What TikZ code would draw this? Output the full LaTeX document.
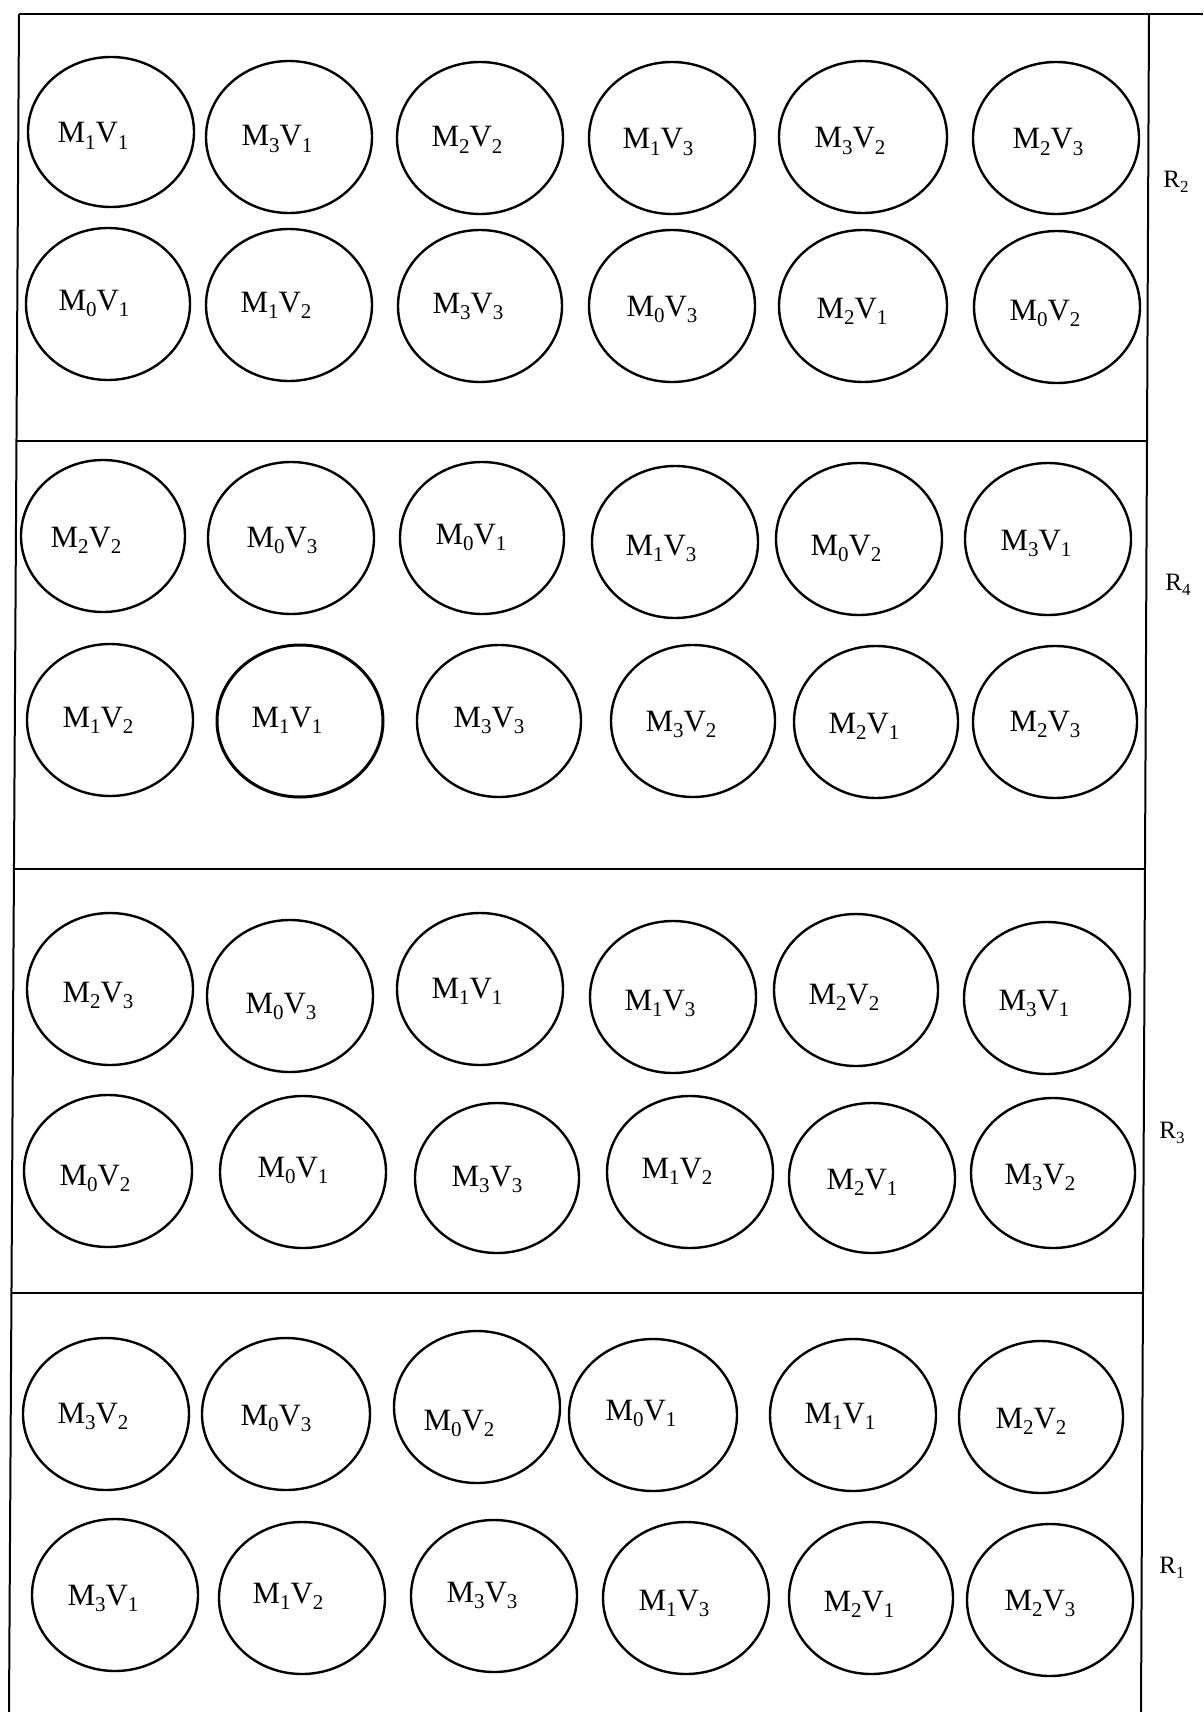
\documentclass[tikz,border=0pt]{standalone}
\usepackage{fontspec}
\setmainfont{Liberation Serif}
\usetikzlibrary{shapes.geometric}
\newcommand\subx[1]{\raisebox{-0.2em}{\fontsize{21}{21}\selectfont #1}}
\newcommand\mv[2]{M\subx{#1}V\subx{#2}}
\newcommand\rsub[1]{\raisebox{-0.2em}{\fontsize{17}{17}\selectfont #1}}
\tikzset{
  cell/.style={ellipse, draw=black, line width=2.4pt, minimum width=166, minimum height=152, inner sep=0pt},
  lab/.style={anchor=base, inner sep=0pt, font=\fontsize{31}{36}\selectfont},
  rlab/.style={anchor=base, inner sep=0pt, font=\fontsize{25}{30}\selectfont},
  frame/.style={line width=2pt, draw=black}
}
\begin{document}
\begin{tikzpicture}[x=1pt,y=-1pt]
\useasboundingbox (0,0) rectangle (1203,1712);
% frame
\coordinate (TL) at (19,14);
\coordinate (TR) at (1149,14);
\coordinate (TE) at (1203,14);
\coordinate (BL) at (9,1712);
\coordinate (BR) at (1141,1712);
\coordinate (L1) at (16.5,441); \coordinate (R1x) at (1147,441);
\coordinate (L2) at (14,869);   \coordinate (R2x) at (1145,869);
\coordinate (L3) at (11.5,1293);\coordinate (R3x) at (1143,1293);
\draw[frame] (TL) -- (TE);
\draw[frame] (TL) -- (BL);
\draw[frame] (TR) -- (BR);
\draw[frame] (L1) -- (R1x);
\draw[frame] (L2) -- (R2x);
\draw[frame] (L3) -- (R3x);
% row labels
\node[rlab] (rA) at (1176,188) {R\rsub{2}};
\node[rlab] (rB) at (1178,590) {R\rsub{4}};
\node[rlab] (rC) at (1172,1138) {R\rsub{3}};
\node[rlab] (rD) at (1172,1573) {R\rsub{1}};
% ---------- R2 ----------
\node[cell, minimum height=150] (a1) at (111,132) {};  \node[lab] (a1t) at (93,143) {\mv{1}{1}};
\node[cell] (a2) at (289,137) {};  \node[lab] (a2t) at (277,146) {\mv{3}{1}};
\node[cell] (a3) at (480,138) {};  \node[lab] (a3t) at (467,147) {\mv{2}{2}};
\node[cell] (a4) at (672,138) {};  \node[lab] (a4t) at (658,149) {\mv{1}{3}};
\node[cell, minimum width=168] (a5) at (863,137) {};  \node[lab] (a5t) at (850,148) {\mv{3}{2}};
\node[cell] (a6) at (1056,138) {}; \node[lab] (a6t) at (1048,149) {\mv{2}{3}};
\node[cell, minimum width=164] (a7) at (108,304) {};  \node[lab] (a7t) at (94,310) {\mv{0}{1}};
\node[cell] (a8) at (289,305) {};  \node[lab] (a8t) at (276,312) {\mv{1}{2}};
\node[cell, minimum width=164] (a9) at (480,306) {};  \node[lab] (a9t) at (468,313) {\mv{3}{3}};
\node[cell] (a10) at (672,306) {}; \node[lab] (a10t) at (662,316) {\mv{0}{3}};
\node[cell, minimum width=168] (a11) at (863,306) {}; \node[lab] (a11t) at (852,318) {\mv{2}{1}};
\node[cell] (a12) at (1057,307) {}; \node[lab] (a12t) at (1045,320) {\mv{0}{2}};
% ---------- R4 ----------
\node[cell, minimum width=164] (b1) at (103,536) {};  \node[lab] (b1t) at (86,547) {\mv{2}{2}};
\node[cell] (b2) at (291,538) {};  \node[lab] (b2t) at (282,547) {\mv{0}{3}};
\node[cell, minimum width=164] (b3) at (482,538) {};  \node[lab] (b3t) at (471,544) {\mv{0}{1}};
\node[cell] (b4) at (675,542) {};  \node[lab] (b4t) at (661,555) {\mv{1}{3}};
\node[cell] (b5) at (859,539) {};  \node[lab] (b5t) at (846,555) {\mv{0}{2}};
\node[cell] (b6) at (1048,539) {}; \node[lab] (b6t) at (1036,550) {\mv{3}{1}};
\node[cell] (b7) at (110,720) {};  \node[lab] (b7t) at (98,727) {\mv{1}{2}};
\node[cell, line width=3pt] (b8) at (300,721) {};  \node[lab] (b8t) at (287,727) {\mv{1}{1}};
\node[cell, minimum width=164] (b9) at (499,721) {};  \node[lab] (b9t) at (489,727) {\mv{3}{3}};
\node[cell, minimum width=164] (b10) at (693,721) {}; \node[lab] (b10t) at (681,731) {\mv{3}{2}};
\node[cell, minimum width=164] (b11) at (876,722) {}; \node[lab] (b11t) at (864,733) {\mv{2}{1}};
\node[cell, minimum width=164] (b12) at (1055,722) {}; \node[lab] (b12t) at (1045,731) {\mv{2}{3}};
% ---------- R3 ----------
\node[cell] (c1) at (110,989) {};  \node[lab] (c1t) at (98,1002) {\mv{2}{3}};
\node[cell] (c2) at (290,996) {};  \node[lab] (c2t) at (281,1013) {\mv{0}{3}};
\node[cell] (c3) at (480,989) {};  \node[lab] (c3t) at (467,998) {\mv{1}{1}};
\node[cell] (c4) at (673,997) {};  \node[lab] (c4t) at (660,1010) {\mv{1}{3}};
\node[cell, minimum width=164] (c5) at (856,990) {};  \node[lab] (c5t) at (844,1004) {\mv{2}{2}};
\node[cell] (c6) at (1047,998) {}; \node[lab] (c6t) at (1034,1010) {\mv{3}{1}};
\node[cell, minimum width=168] (c7) at (108,1171) {}; \node[lab] (c7t) at (95,1185) {\mv{0}{2}};
\node[cell] (c8) at (303,1172) {}; \node[lab] (c8t) at (293,1177) {\mv{0}{1}};
\node[cell, minimum width=164, minimum height=150] (c9) at (497,1178) {}; \node[lab] (c9t) at (487,1186) {\mv{3}{3}};
\node[cell] (c10) at (690,1172) {}; \node[lab] (c10t) at (677,1178) {\mv{1}{2}};
\node[cell, minimum height=150] (c11) at (872,1178) {}; \node[lab] (c11t) at (862,1189) {\mv{2}{1}};
\node[cell, minimum width=164, minimum height=150] (c12) at (1053,1173) {}; \node[lab] (c12t) at (1040,1184) {\mv{3}{2}};
% ---------- R1 ----------
\node[cell] (d1) at (106,1414) {};  \node[lab] (d1t) at (93,1423) {\mv{3}{2}};
\node[cell, minimum width=168] (d2) at (286,1414) {};  \node[lab] (d2t) at (276,1425) {\mv{0}{3}};
\node[cell] (d3) at (477,1407) {};  \node[lab] (d3t) at (459,1430) {\mv{0}{2}};
\node[cell, minimum width=168] (d4) at (653,1415) {};  \node[lab] (d4t) at (641,1420) {\mv{0}{1}};
\node[cell] (d5) at (853,1415) {};  \node[lab] (d5t) at (840,1423) {\mv{1}{1}};
\node[cell, minimum width=164] (d6) at (1041,1417) {}; \node[lab] (d6t) at (1031,1428) {\mv{2}{2}};
\node[cell] (d7) at (115,1595) {};  \node[lab] (d7t) at (103,1605) {\mv{3}{1}};
\node[cell] (d8) at (302,1598) {};  \node[lab] (d8t) at (288,1603) {\mv{1}{2}};
\node[cell] (d9) at (494,1596) {};  \node[lab] (d9t) at (482,1602) {\mv{3}{3}};
\node[cell] (d10) at (686,1598) {}; \node[lab] (d10t) at (674,1610) {\mv{1}{3}};
\node[cell, minimum width=164] (d11) at (871,1598) {}; \node[lab] (d11t) at (859,1611) {\mv{2}{1}};
\node[cell] (d12) at (1050,1600) {}; \node[lab] (d12t) at (1040,1610) {\mv{2}{3}};
\end{tikzpicture}
\end{document}
